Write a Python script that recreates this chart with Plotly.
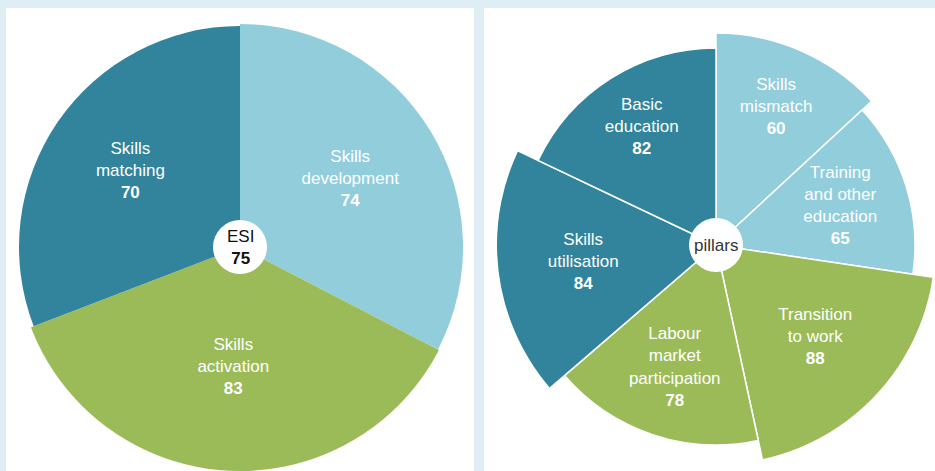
import plotly.graph_objects as go

# ---------------- data ----------------
esi_labels = ["Skills<br>development", "Skills<br>activation", "Skills<br>matching"]
esi_values = [74, 83, 70]
esi_reach = [223, 225, 221]          # outer extent of each slice as drawn
esi_total = 75

pillar_labels = ["Skills<br>mismatch", "Training<br>and other<br>education", "Transition<br>to work",
                 "Labour<br>market<br>participation", "Skills<br>utilisation", "Basic<br>education"]
pillar_values = [60, 65, 88, 78, 84, 82]
pillar_reach = [212, 199, 221, 200, 220, 197]

# ---------------- styles ----------------
TEAL = "#31849B"
LIGHT = "#92CDDC"
GREEN = "#9BBB59"
esi_colors = [LIGHT, GREEN, TEAL]
pillar_colors = [LIGHT, LIGHT, GREEN, GREEN, TEAL, TEAL]
esi_label_r = [129, 121, 133]
pillar_label_r = [150, 130, 136, 130, 134, 139]
FONT = "Liberation Sans, Arial, sans-serif"
W, H = 935, 471


def wedges(values):
    tot = sum(values)
    widths = [v / tot * 360 for v in values]
    centers, acc = [], 0
    for w in widths:
        centers.append(acc + w / 2)
        acc += w
    return widths, centers


fig = go.Figure()

for sub, labels, values, reach, colors, lab_r, line_w in [
    ("polar", esi_labels, esi_values, esi_reach, esi_colors, esi_label_r, 0),
    ("polar2", pillar_labels, pillar_values, pillar_reach, pillar_colors, pillar_label_r, 1.5),
]:
    widths, centers = wedges(values)
    fig.add_trace(go.Barpolar(
        r=reach, theta=centers, width=widths, base=0,
        marker=dict(color=colors, line=dict(color="white", width=line_w)),
        subplot=sub, hoverinfo="skip", showlegend=False))
    fig.add_trace(go.Scatterpolar(
        r=lab_r, theta=centers, mode="text",
        text=[f"{l}<br><b>{v}</b>" for l, v in zip(labels, values)],
        textposition="middle center",
        textfont=dict(family=FONT, size=17, color="white"),
        subplot=sub, hoverinfo="skip", showlegend=False, cliponaxis=False))
    fig.add_trace(go.Scatterpolar(
        r=[0], theta=[0], mode="markers",
        marker=dict(size=54, color="white", line=dict(width=0)),
        subplot=sub, hoverinfo="skip", showlegend=False, cliponaxis=False))

polar_common = dict(
    bgcolor="rgba(0,0,0,0)",
    radialaxis=dict(visible=False, showgrid=False),
    angularaxis=dict(visible=False, showgrid=False, rotation=90, direction="clockwise"),
)

RL = 224
RR = 219
fig.update_layout(
    width=W, height=H, autosize=False,
    margin=dict(l=0, r=0, t=0, b=0),
    paper_bgcolor="#DFEEF5", plot_bgcolor="#DFEEF5",
    polar=dict(domain=dict(x=[(240 - RL) / W, (240 + RL) / W], y=[0, 2 * RL / H]),
               radialaxis_range=[0, RL], **polar_common),
    polar2=dict(domain=dict(x=[(716 - RR) / W, 1], y=[(226 - RR) / H, (226 + RR) / H]),
                radialaxis_range=[0, RR], **polar_common),
    shapes=[
        dict(type="rect", xref="paper", yref="paper", x0=6 / W, x1=474 / W, y0=0, y1=(H - 8) / H,
             fillcolor="white", line=dict(width=0), layer="below"),
        dict(type="rect", xref="paper", yref="paper", x0=484 / W, x1=1, y0=0, y1=(H - 8) / H,
             fillcolor="white", line=dict(width=0), layer="below"),
    ],
    annotations=[
        dict(x=240 / W, y=224 / H, xref="paper", yref="paper", showarrow=False,
             text=f"ESI<br><b>{esi_total}</b>", font=dict(family=FONT, size=17, color="#111"),
             xanchor="center", yanchor="middle"),
        dict(x=716 / W, y=226 / H, xref="paper", yref="paper", showarrow=False,
             text="pillars", font=dict(family=FONT, size=17, color="#333"),
             xanchor="center", yanchor="middle"),
    ],
)

fig.write_html("out.html",
               config={"displayModeBar": False, "staticPlot": True},
               post_script="document.body.style.margin='0';document.body.style.padding='0';"
                           "document.body.style.overflow='hidden';")
